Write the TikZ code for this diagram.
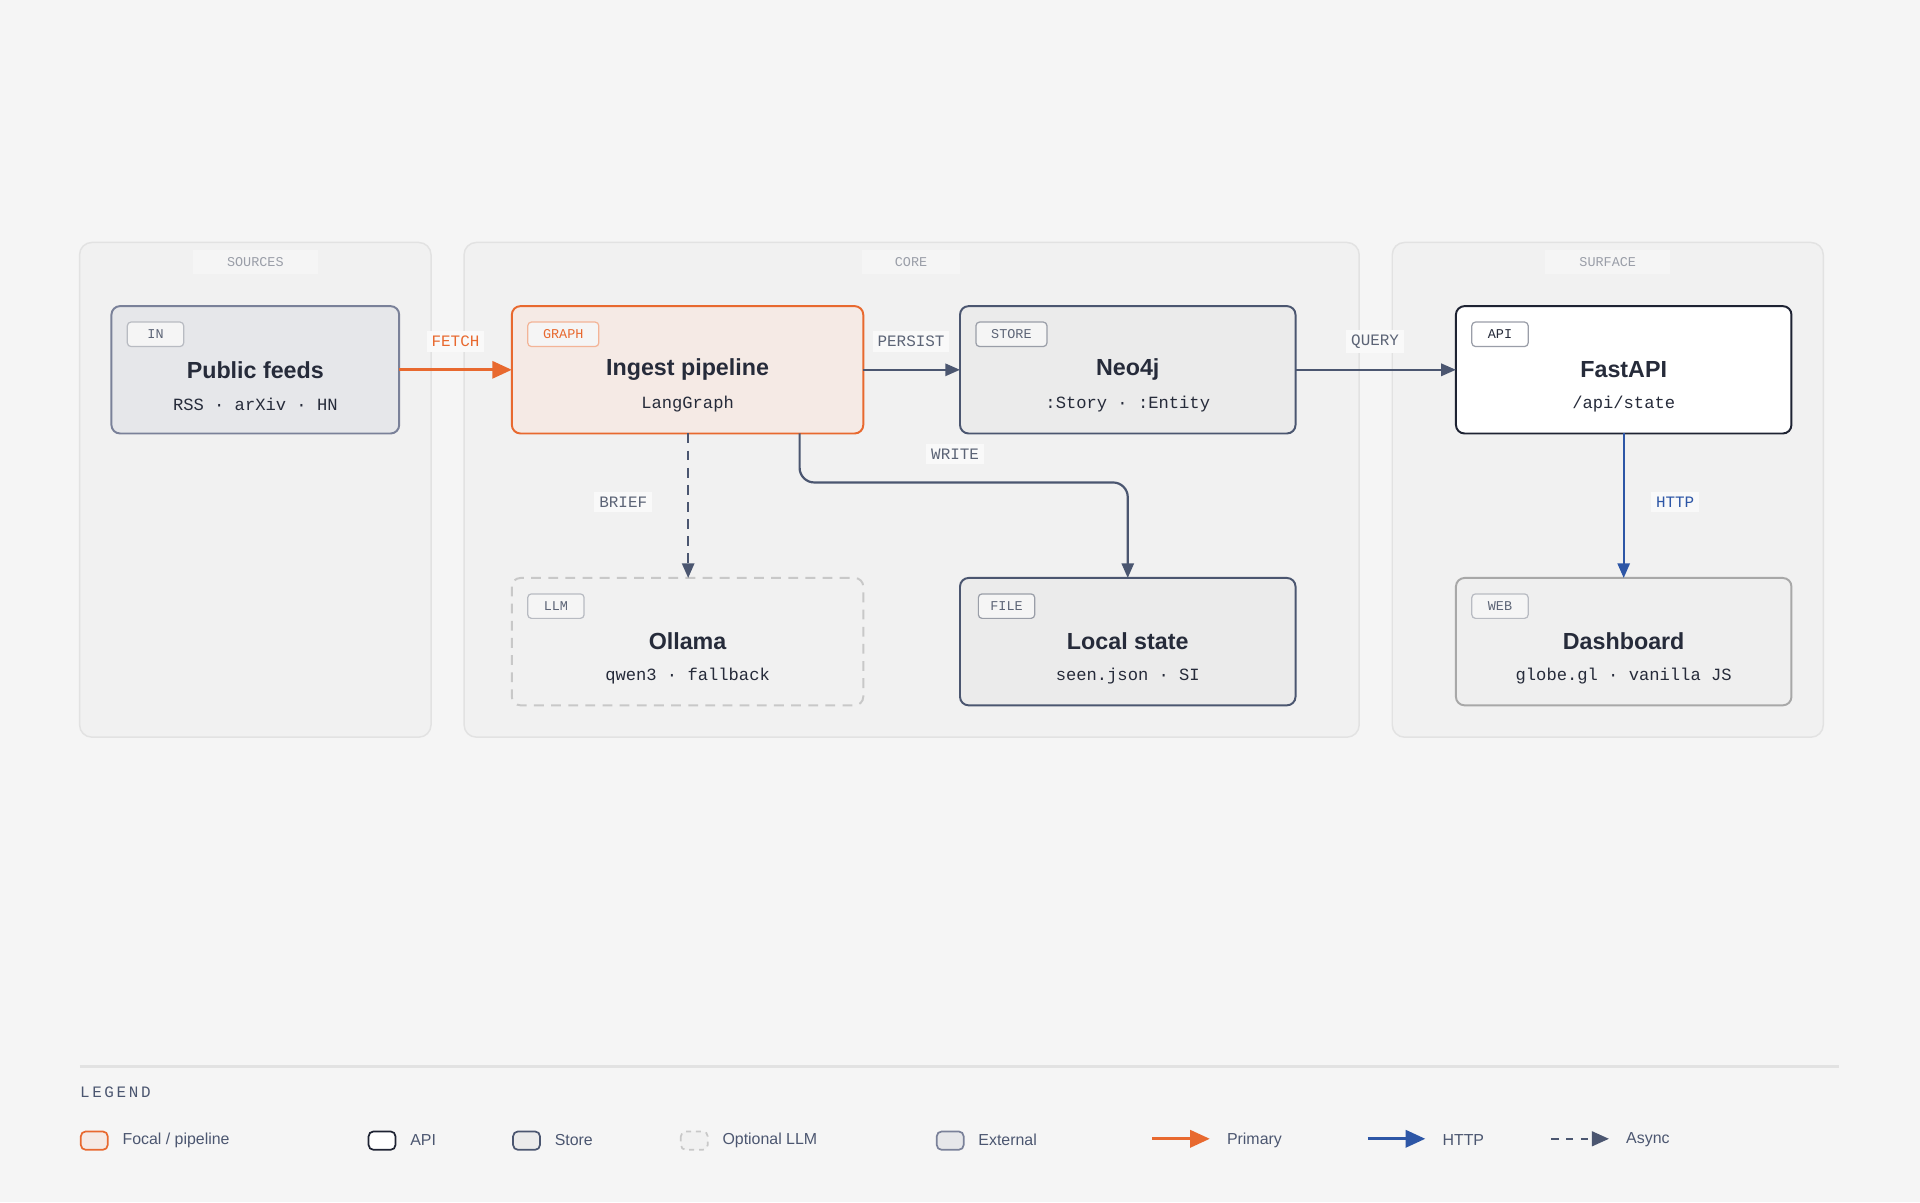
\documentclass[tikz,border=0pt]{standalone}
\usepackage{fontspec}
\setmainfont{Liberation Sans}
\newfontfamily\monof{Liberation Mono}
\usetikzlibrary{arrows.meta}
\definecolor{bg}{HTML}{F5F5F5}
\definecolor{grpfill}{HTML}{F1F1F1}
\definecolor{grpline}{HTML}{E2E2E2}
\definecolor{org}{HTML}{E8692F}
\definecolor{orgfill}{HTML}{F5EAE5}
\definecolor{slate}{HTML}{4B5670}
\definecolor{extfill}{HTML}{E6E7EA}
\definecolor{extline}{HTML}{7A8199}
\definecolor{storefill}{HTML}{EBEBEB}
\definecolor{apiline}{HTML}{1E2333}
\definecolor{webfill}{HTML}{EFEFEF}
\definecolor{webline}{HTML}{A8A8A8}
\definecolor{llmline}{HTML}{C8C8C8}
\definecolor{blu}{HTML}{2D56A6}
\definecolor{ink}{HTML}{262B3A}
\definecolor{mute}{HTML}{5C6476}
\definecolor{lmute}{HTML}{9A9EA8}
\begin{document}
\begin{tikzpicture}[x={(0.5pt,0)},y={(0,-0.5pt)},
 grp/.style={draw=grpline,fill=grpfill,rounded corners=5pt,line width=0.6pt},
 grplab/.style={fill=bg,text=lmute,font=\monof\fontsize{5.5}{6}\selectfont,minimum width=51pt,minimum height=10pt,inner sep=0},
 box/.style={rounded corners=3.5pt,line width=0.8pt},
 ttl/.style={text=ink,font=\bfseries\fontsize{9.5}{11}\selectfont},
 sub/.style={text=ink,font=\monof\fontsize{7}{8}\selectfont},
 tag/.style={draw=#1,fill=black!4,rounded corners=1.5pt,font=\monof\fontsize{5.5}{6}\selectfont,inner sep=0,minimum height=10pt,minimum width=23pt,line width=0.5pt},
 elab/.style={fill=bg!60!white,font=\monof\fontsize{6.5}{7}\selectfont,inner sep=2pt,text=mute},
 ed/.style={draw=slate,line width=0.9pt,-{Triangle[length=6pt,width=5pt]}},
 leg/.style={text=slate,font=\fontsize{6.5}{7}\selectfont,anchor=west},
 sw/.style={rounded corners=2pt,line width=0.7pt}]
\fill[bg] (0,0) rectangle (1568,982);
\useasboundingbox (0,0) rectangle (1568,982);
% groups
\draw[grp] (65,198) rectangle (352,602);
\draw[grp] (379,198) rectangle (1110,602);
\draw[grp] (1137,198) rectangle (1489,602);
\node[grplab] (gs) at (208.5,214) {SOURCES};
\node[grplab,minimum width=40pt] (gc) at (744,214) {CORE};
\node[grplab] (gf) at (1313,214) {SURFACE};
% nodes
\draw[box,draw=extline,fill=extfill] (91,250) rectangle (326,354);
\node[tag=lmute!70,text=mute] (t1) at (127,273) {IN};
\node[ttl] (pf) at (208.5,302) {Public feeds};
\node[sub] (pfs) at (208.5,330) {RSS · arXiv · HN};
\coordinate (pfR) at (326,302);

\draw[box,draw=org,fill=orgfill] (418,250) rectangle (705,354);
\node[tag=org!50,text=org,minimum width=29pt] (t2) at (460,273) {GRAPH};
\node[ttl] (ig) at (561.5,302) {Ingest pipeline};
\node[sub] (igs) at (561.5,330) {LangGraph};
\coordinate (igL) at (418,302); \coordinate (igR) at (705,302);
\coordinate (igB1) at (562,354); \coordinate (igB2) at (653,354);

\draw[box,draw=slate,fill=storefill] (784,250) rectangle (1058,354);
\node[tag=lmute,text=mute,minimum width=29pt] (t3) at (826,273) {STORE};
\node[ttl] (neo) at (921,302) {Neo4j};
\node[sub] (neos) at (921,330) {:Story · :Entity};
\coordinate (neoL) at (784,302); \coordinate (neoR) at (1058,302);

\draw[box,draw=apiline,fill=white] (1189,250) rectangle (1463,354);
\node[tag=lmute,text=ink,fill=white] (t4) at (1225,273) {API};
\node[ttl] (api) at (1326,302) {FastAPI};
\node[sub] (apis) at (1326,330) {/api/state};
\coordinate (apiL) at (1189,302); \coordinate (apiB) at (1326,354);

\draw[box,draw=llmline,fill=grpfill,dash pattern=on 4pt off 3pt] (418,472) rectangle (705,576);
\node[tag=lmute!70,text=mute] (t5) at (454,495) {LLM};
\node[ttl] (oll) at (561.5,524) {Ollama};
\node[sub] (olls) at (561.5,552) {qwen3 · fallback};
\coordinate (ollT) at (562,472);

\draw[box,draw=slate,fill=storefill] (784,472) rectangle (1058,576);
\node[tag=lmute,text=mute] (t6) at (822,495) {FILE};
\node[ttl] (loc) at (921,524) {Local state};
\node[sub] (locs) at (921,552) {seen.json · SI};
\coordinate (locT) at (921,472);

\draw[box,draw=webline,fill=webfill] (1189,472) rectangle (1463,576);
\node[tag=lmute!70,text=mute] (t7) at (1225,495) {WEB};
\node[ttl] (web) at (1326,524) {Dashboard};
\node[sub] (webs) at (1326,552) {globe.gl · vanilla JS};
\coordinate (webT) at (1326,472);
% edges
\draw[ed,draw=org,line width=1.2pt,-{Triangle[length=8pt,width=7pt]}] (pfR) -- (igL);
\node[elab,text=org] (lf) at (372,279) {FETCH};
\draw[ed] (igR) -- (neoL);
\node[elab] (lp) at (744,279) {PERSIST};
\draw[ed] (neoR) -- (apiL);
\node[elab] (lq) at (1123,279) {QUERY};
\draw[ed,dash pattern=on 4pt off 3pt] (igB1) -- (ollT);
\node[elab] (lb) at (509,410) {BRIEF};
\draw[ed,rounded corners=6pt] (igB2) -- (653,394) -- (921,394) -- (locT);
\node[elab] (lw) at (780,371) {WRITE};
\draw[ed,draw=blu] (apiB) -- (webT);
\node[elab,text=blu] (lh) at (1368,410) {HTTP};
% legend
\draw[grpline,line width=1pt] (65,871) -- (1502,871);
\node[anchor=west,inner sep=0,text=slate,font=\monof\fontsize{6.5}{7}\selectfont] (lg) at (65,892) {L\,E\,G\,E\,N\,D};
\draw[sw,draw=org,fill=orgfill] (66,924) rectangle (88,939);
\node[leg] (l1) at (93,931) {Focal / pipeline};
\draw[sw,draw=apiline,fill=white] (301,924) rectangle (323,939);
\node[leg] (l2) at (328,931) {API};
\draw[sw,draw=slate,fill=storefill] (419,924) rectangle (441,939);
\node[leg] (l3) at (446,931) {Store};
\draw[sw,draw=llmline,fill=grpfill,dash pattern=on 2pt off 2pt] (556,924) rectangle (578,939);
\node[leg] (l4) at (583,931) {Optional LLM};
\draw[sw,draw=extline,fill=extfill] (765,924) rectangle (787,939);
\node[leg] (l5) at (792,931) {External};
\coordinate (a1) at (941,930); \coordinate (a2) at (988,930);
\draw[org,line width=1.2pt,-{Triangle[length=8pt,width=7pt]}] (a1) -- (a2);
\node[leg] (l6) at (995,931) {Primary};
\coordinate (b1) at (1117,930); \coordinate (b2) at (1164,930);
\draw[blu,line width=1.2pt,-{Triangle[length=8pt,width=7pt]}] (b1) -- (b2);
\node[leg] (l7) at (1171,931) {HTTP};
\coordinate (c1) at (1267,930); \coordinate (c2) at (1314,930);
\draw[slate,line width=1pt,dash pattern=on 3pt off 3pt,-{Triangle[length=7pt,width=6pt]}] (c1) -- (c2);
\node[leg] (l8) at (1321,931) {Async};
\end{tikzpicture}
\end{document}
